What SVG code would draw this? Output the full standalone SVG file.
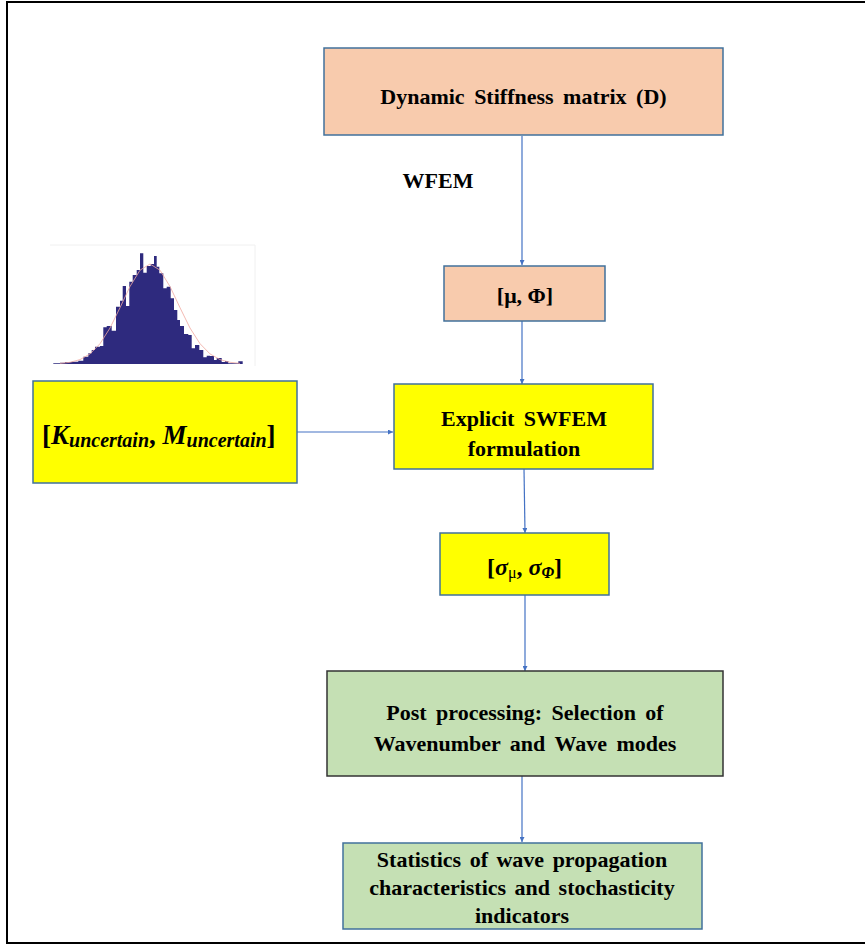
<svg xmlns="http://www.w3.org/2000/svg" width="865" height="947" viewBox="0 0 865 947">
<style>
.box{stroke:#41719C;stroke-width:1.5}
.peach{fill:#F8CBAD}
.yellow{fill:#FFFF00}
.green{fill:#C5E0B4}
.t{font-family:'Liberation Serif','DejaVu Serif',serif;font-weight:bold;font-size:22px;fill:#000;text-anchor:middle}
.m{font-family:'Liberation Serif','DejaVu Serif',serif;font-weight:bold;fill:#000}
.conn{stroke:#4472C4;stroke-width:1.2;fill:none;marker-end:url(#ah)}
</style>
<defs>
<marker id="ah" viewBox="0 0 10 10" refX="10" refY="5" markerWidth="5" markerHeight="5" orient="auto" markerUnits="userSpaceOnUse">
<path d="M0,0 L10,5 L0,10 Z" fill="#4472C4"/>
</marker>
</defs>
<rect x="0" y="0" width="865" height="947" fill="#fff"/>
<rect x="7" y="2" width="870" height="941" fill="none" stroke="#000" stroke-width="2"/>

<g id="histogram">
<path fill="none" stroke="#f0f0f0" stroke-width="1" d="M50,245 H255 V366"/>
<path fill="#2E2A7E" d="M53.3,364 V363.3 H60 V362.7 H65 V362 H71.7 V361.7 H78.3 V360.7 H83.3 V356.7 H88.3 V353.3 H91.7 V350 H95 V346.7 H100 V346 H103.3 V327.3 H106.7 V326 H111.7 V330.7 H116 V306.7 H120 V300.7 H122.7 V286 H126 V306 H129.3 V281.7 H132.7 V275 H136.7 V270 H140 V253.3 H143.3 V272.7 H146.7 V266 H150.7 V264 H154 V256 H156.7 V266.7 H159.3 V273.3 H163.3 V288.3 H166.7 V286.7 H170.7 V298.3 H174 V310 H177.3 V320 H180 V326 H184 V334 H188.3 V335 H191.7 V348.3 H195 V345 H199.3 V350 H203.3 V357.3 H206.7 V355.7 H210 V356 H214 V360 H216.7 V358 H221.7 V362 H225 V361 H228.3 V363.3 H238.3 V361.3 H242.7 V364 Z"/>
<polyline fill="none" stroke="#F0A8A0" stroke-width="0.8" points="60,363.4 70,362.3 80,359.6 90,353.9 100,343.7 110,328 120,307.7 130,286.5 140,270.2 150,264 160,270.2 170,286.5 180,307.7 190,328 200,343.7 210,353.9 220,359.6 230,362.3 240,363.4"/>
</g>

<g id="connectors">
<line class="conn" x1="522" y1="136" x2="522" y2="265"/>
<line class="conn" x1="522" y1="321" x2="522" y2="384"/>
<line class="conn" x1="297" y1="432" x2="393" y2="432"/>
<line class="conn" x1="524" y1="469" x2="525" y2="533"/>
<line class="conn" x1="525" y1="595" x2="525" y2="671"/>
<line class="conn" x1="522" y1="776" x2="522" y2="842"/>
</g>

<g id="dsm">
<rect class="box peach" x="324" y="48" width="399" height="87"/>
<text class="t" x="523.5" y="104" word-spacing="4">Dynamic Stiffness matrix (D)</text>
</g>

<g id="wfem-label">
<text class="t" x="438" y="188">WFEM</text>
</g>

<g id="mu-phi">
<rect class="box peach" x="444" y="266" width="161" height="55"/>
<text class="t" x="525" y="303">[μ, Φ]</text>
</g>

<g id="uncertain">
<rect class="box yellow" x="33" y="381" width="264" height="102"/>
<text class="m" x="42" y="444" font-size="27">[<tspan font-style="italic">K</tspan><tspan font-style="italic" font-size="20" dy="3">uncertain</tspan><tspan dy="-3">, </tspan><tspan font-style="italic">M</tspan><tspan font-style="italic" font-size="20" dy="3">uncertain</tspan><tspan dy="-3">]</tspan></text>
</g>

<g id="swfem">
<rect class="box yellow" x="394" y="384" width="259" height="85"/>
<text class="t" x="524" y="426" word-spacing="4">Explicit SWFEM</text>
<text class="t" x="524" y="456">formulation</text>
</g>

<g id="sigma">
<rect class="box yellow" x="440" y="533" width="169" height="62"/>
<text class="m" x="487" y="575" font-size="24">[<tspan font-style="italic">σ</tspan><tspan font-weight="normal" font-size="16" dy="3">μ</tspan><tspan dy="-3">, </tspan><tspan font-style="italic">σ</tspan><tspan font-style="italic" font-size="16" dy="3">Φ</tspan><tspan dy="-3">]</tspan></text>
</g>

<g id="post">
<rect class="green" x="327" y="671" width="396" height="105" stroke="#333" stroke-width="1.5"/>
<text class="t" x="525" y="720" word-spacing="4">Post processing: Selection of</text>
<text class="t" x="525" y="751" word-spacing="4">Wavenumber and Wave modes</text>
</g>

<g id="stats">
<rect class="box green" x="343" y="843" width="359" height="86"/>
<text class="t" x="522" y="867" word-spacing="3">Statistics of wave propagation</text>
<text class="t" x="522" y="895" word-spacing="3">characteristics and stochasticity</text>
<text class="t" x="522" y="923">indicators</text>
</g>
</svg>
